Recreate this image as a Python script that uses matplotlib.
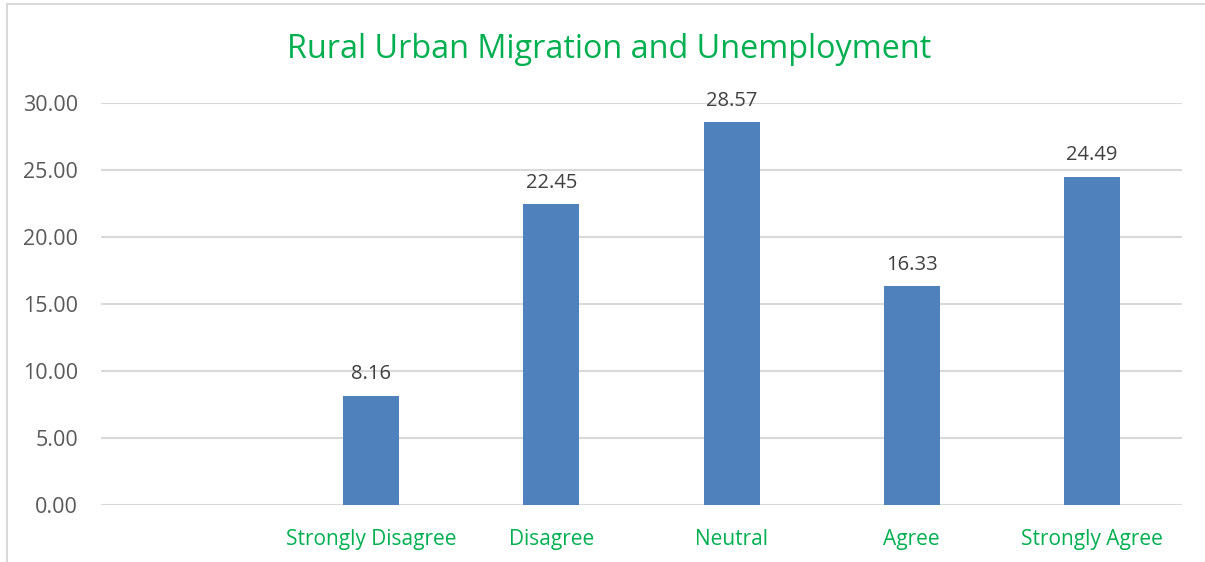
import matplotlib
matplotlib.use("Agg")
import matplotlib.pyplot as plt
from matplotlib.patches import Rectangle

categories = ["", "Strongly Disagree", "Disagree", "Neutral", "Agree", "Strongly Agree"]
values = [None, 8.16, 22.45, 28.57, 16.33, 24.49]
yticks = [0, 5, 10, 15, 20, 25, 30]

plt.rcParams["font.family"] = ["Open Sans", "DejaVu Sans"]

W, H = 1205, 562
fig = plt.figure(figsize=(W / 100, H / 100), dpi=100)
fig.patch.set_facecolor("white")

# outer chart frame
fig.add_artist(Rectangle((7 / W, -0.1), 1.2, 1 - 4 / H + 0.1, transform=fig.transFigure,
                         fill=False, edgecolor="#D9D9D9", linewidth=1.5))

left, right, top, bottom = 101, 1182, 103, 505
ax = fig.add_axes([left / W, 1 - bottom / H, (right - left) / W, (bottom - top) / H])

xs = list(range(len(categories)))
for x, v in zip(xs, values):
    if v is None:
        continue
    ax.bar(x, v, width=0.31, color="#4F81BD", zorder=3)
    ax.text(x, v + 0.85, f"{v:.2f}", ha="center", va="bottom", fontsize=14.5, color="#404040")

ax.set_xlim(-0.5, len(categories) - 0.5)
ax.set_ylim(0, 30)
ax.set_yticks(yticks)
ax.set_yticklabels([f"{t:.2f}" for t in yticks], fontsize=15.5, color="#595959")
ax.set_xticks(xs)
ax.set_xticklabels(categories, fontsize=15, color="#00B050")
ax.tick_params(axis="both", length=0)
ax.tick_params(axis="y", pad=16.5)
ax.tick_params(axis="x", pad=17)
ax.grid(axis="y", color="#D9D9D9", linewidth=1.5, zorder=0)
for s in ax.spines.values():
    s.set_visible(False)
ax.axhline(0, color="#D9D9D9", linewidth=2, zorder=2)

fig.text(609 / W, 1 - 50 / H, "Rural Urban Migration and Unemployment", ha="center", va="center",
         fontsize=23.3, color="#00B050")

fig.savefig("out.png", dpi=100)
